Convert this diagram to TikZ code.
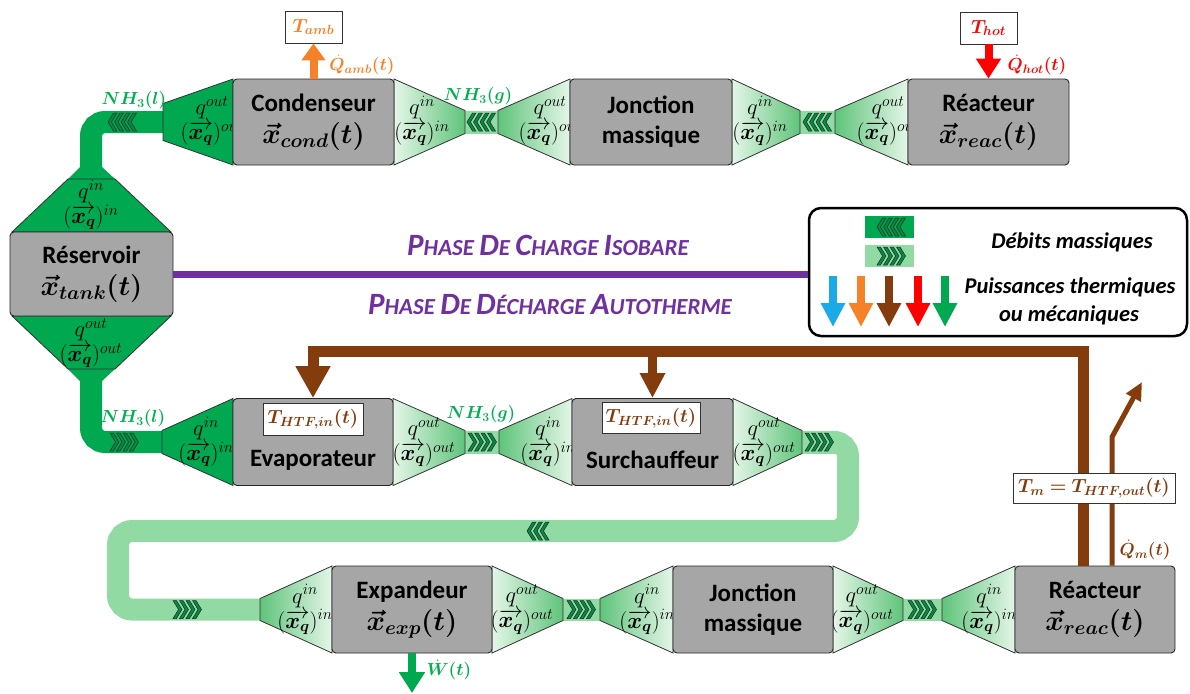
\RequirePackage{fix-cm}
\documentclass[tikz,border=0pt]{standalone}
\usepackage{amsmath}
\usepackage{bm}
\usepackage{fontspec}
\setmainfont{Carlito}
\usetikzlibrary{arrows.meta}
\pgfdeclarelayer{bg}
\pgfsetlayers{bg,main}
\definecolor{dg}{RGB}{0,168,80}
\definecolor{chevc}{RGB}{0,140,65}
\definecolor{lgd}{RGB}{95,196,122}
\definecolor{lgl}{RGB}{228,246,232}
\definecolor{pipel}{RGB}{145,218,163}
\definecolor{boxg}{RGB}{166,166,166}
\definecolor{brn}{RGB}{132,60,12}
\definecolor{purp}{RGB}{112,48,160}
\definecolor{orng}{RGB}{245,130,40}
\definecolor{redc}{RGB}{255,0,0}
\definecolor{grt}{RGB}{0,176,80}
\definecolor{skyb}{RGB}{28,170,230}
\newcommand\trap[6]{\path[#6] (#1,{#3-#4}) -- (#2,{#3-#5}) -- (#2,{#3+#5}) -- (#1,{#3+#4}) -- cycle;}
\newcommand\chevs[4]{\foreach \i in {1,...,#3}{\pic[xscale=#4] at ({#1+(\i-1)*6.5+(1-#4)*4.5},#2) {chev};}}
\newcommand\qlab[4]{\node[qlab] (#1) at (#2,#3) {$q^{#4}$\\[-1pt]$(\overrightarrow{\bm{x}_{\bm{q}}})^{#4}$};}
\newcommand\sck[2]{{\fontsize{31}{31}\selectfont #1}{\fontsize{23}{23}\selectfont #2}}
\begin{document}
\begin{tikzpicture}[x=1pt,y=-1pt,
  box/.style={draw=black!85, line width=0.9pt, fill=boxg, rounded corners=4pt, minimum width=#1, minimum height=86pt, inner sep=0pt, align=center, font=\bfseries\fontsize{25}{30}\selectfont},
  box/.default=160pt,
  dtrap/.style={fill=dg, draw=black!80, line width=0.8pt},
  ltrapL/.style={left color=lgd, right color=lgl, draw=black!80, line width=0.8pt},
  ltrapR/.style={left color=lgl, right color=lgd, draw=black!80, line width=0.8pt},
  dpipe/.style={draw=dg, line width=22pt, rounded corners=14pt},
  lpipe/.style={draw=pipel, line width=22pt, rounded corners=14pt},
  qlab/.style={font=\fontsize{22.5}{26}\selectfont, align=center, inner sep=0pt},
  nh/.style={text=grt, font=\fontsize{17.5}{18}\selectfont, inner sep=0pt},
  tbox/.style={draw=black!80, line width=0.8pt, fill=white, inner sep=0pt, font=\fontsize{19}{20}\selectfont},
  lab/.style={inner sep=0pt, font=\fontsize{17.5}{18}\selectfont},
  legt/.style={inner sep=0pt, font=\bfseries\itshape\fontsize{22.5}{24}\selectfont},
  phase/.style={inner sep=0pt, text=purp, font=\bfseries\itshape\fontsize{23}{23}\selectfont},
  chev/.pic={\filldraw[fill=chevc, draw=black!85, line width=0.5pt] (0,-9) -- (3.5,-9) -- (9,0) -- (3.5,9) -- (0,9) -- (5.5,0) -- cycle;}
]
\useasboundingbox (0,0) rectangle (1190,693);

% ---------- named pipe ends ----------
\coordinate (condout) at (163,122);
\coordinate (tankin) at (91,168);
\coordinate (tankout) at (91,380);
\coordinate (evapin) at (162,442);
\coordinate (surchout) at (825,442);
\coordinate (expin) at (262,609.5);

\begin{pgfonlayer}{bg}
% pipes
\draw[dpipe] (condout) -- (91,122) -- (tankin);
\draw[dpipe] (tankout) -- (91,442) -- (evapin);
\draw[lpipe] (surchout) -- (848,442) -- (848,531) -- (118,531) -- (118,609.5) -- (expin);
% flares at the tank
\fill[dg] (80,167) -- (102,167) -- (115,179) -- (68,179) -- cycle;
\fill[dg] (68,369) -- (115,369) -- (102,381) -- (80,381) -- cycle;
% strips
\fill[pipel] (465,110.5) rectangle (498,133.5);
\fill[pipel] (800,110.5) rectangle (835,133.5);
\fill[pipel] (465,430.5) rectangle (499,453.5);
\fill[pipel] (802,430.5) rectangle (838,453.5);
\fill[pipel] (563,598.5) rectangle (600,620.5);
\fill[pipel] (903,598.5) rectangle (942,620.5);
% trapezoids row 1
\trap{163}{233}{122}{18.5}{43}{dtrap}
\trap{465}{394}{122}{11.5}{43}{ltrapR}
\trap{498}{570}{122}{11.5}{43}{ltrapL}
\trap{800}{732}{122}{11.5}{43}{ltrapR}
\trap{835}{908}{122}{11.5}{43}{ltrapL}
% tank
\path[dtrap] (68,179) -- (115,179) -- (171,232) -- (12,232) -- cycle;
\path[dtrap] (12,316) -- (171,316) -- (115,369) -- (68,369) -- cycle;
% row 2
\trap{162}{233}{442}{11.5}{43.5}{dtrap}
\trap{465}{393}{442}{11.5}{43.5}{ltrapR}
\trap{499}{572}{442}{11.5}{43.5}{ltrapL}
\trap{802}{733}{442}{11.5}{43.5}{ltrapR}
% row 3
\trap{260}{332}{609.5}{11}{43.5}{ltrapL}
\trap{563}{492}{609.5}{11}{43.5}{ltrapR}
\trap{600}{673}{609.5}{11}{43.5}{ltrapL}
\trap{903}{833}{609.5}{11}{43.5}{ltrapR}
\trap{942}{1015}{609.5}{11}{43.5}{ltrapL}
% chevrons
\chevs{108}{122}{4}{-1}
\chevs{467}{122}{4}{-1}
\chevs{803}{122}{4}{-1}
\chevs{110}{442}{4}{1}
\chevs{468}{442}{4}{1}
\chevs{805}{442}{4}{1}
\chevs{527}{531}{3}{-1}
\chevs{173}{609.5}{4}{1}
\chevs{567}{609.5}{4}{1}
\chevs{908}{609.5}{4}{1}
% q labels
\qlab{q1}{212}{121}{out}
\qlab{q2}{422}{121}{in}
\qlab{q3}{550}{121}{out}
\qlab{q4}{760}{121}{in}
\qlab{q5}{888}{121}{out}
\qlab{q6}{91}{205}{in}
\qlab{q7}{91}{343}{out}
\qlab{q8}{206}{442}{in}
\qlab{q9}{424}{442}{out}
\qlab{q10}{548}{442}{in}
\qlab{q11}{764}{442}{out}
\qlab{q12}{305}{609.5}{in}
\qlab{q13}{522}{609.5}{out}
\qlab{q14}{647}{609.5}{in}
\qlab{q15}{862}{609.5}{out}
\qlab{q16}{989}{609.5}{in}
\end{pgfonlayer}

% ---------- boxes ----------
\node[box=161pt] (cond) at (313.5,122) {Condenseur\\[2pt]{\fontsize{28}{30}\selectfont$\bm{\vec{x}_{cond}(t)}$}};
\node[box=162pt] (jm1) at (651,122) {Jonction\\massique};
\node[box=161pt] (reac1) at (988.5,122) {Réacteur\\[2pt]{\fontsize{28}{30}\selectfont$\bm{\vec{x}_{reac}(t)}$}};
\node[box=163pt, minimum height=84pt] (tank) at (91.5,274) {Réservoir\\[2pt]{\fontsize{28}{30}\selectfont$\bm{\vec{x}_{tank}(t)}$}};
\node[box=160pt, minimum height=87pt] (evap) at (313,442) {};
\node[box=161pt, minimum height=87pt] (surch) at (652.5,442) {};
\node[box=160pt, minimum height=87pt] (exp) at (412,609.5) {Expandeur\\[2pt]{\fontsize{28}{30}\selectfont$\bm{\vec{x}_{exp}(t)}$}};
\node[box=160pt, minimum height=87pt] (jm2) at (753,609.5) {Jonction\\massique};
\node[box=160pt, minimum height=87pt] (reac2) at (1095,609.5) {Réacteur\\[2pt]{\fontsize{28}{30}\selectfont$\bm{\vec{x}_{reac}(t)}$}};
\node[inner sep=0pt, font=\bfseries\fontsize{25}{30}\selectfont] (evapt) at (313,460) {Evaporateur};
\node[inner sep=0pt, font=\bfseries\fontsize{25}{30}\selectfont] (surcht) at (652.5,460) {Surchauffeur};
\node[tbox, minimum width=100pt, minimum height=32pt, text=brn] (tin1) at (313,419) {$\bm{T_{HTF,in}(t)}$};
\node[tbox, minimum width=98pt, minimum height=31pt, text=brn] (tin2) at (651,418) {$\bm{T_{HTF,in}(t)}$};

% ---------- NH3 labels ----------
\node[nh] (nh1) at (134,100) {$\bm{NH_3(l)}$};
\node[nh] (nh2) at (478,96) {$\bm{NH_3(g)}$};
\node[nh] (nh3) at (133,418) {$\bm{NH_3(l)}$};
\node[nh] (nh4) at (481,414) {$\bm{NH_3(g)}$};

% ---------- heat flows ----------
\node[tbox, minimum width=57pt, minimum height=32pt, text=orng] (tamb) at (313.5,27) {$\bm{T_{amb}}$};
\node[tbox, minimum width=57pt, minimum height=32pt, text=redc] (thot) at (988.5,28) {$\bm{T_{hot}}$};
\draw[orng, line width=8pt, -{Triangle[width=23pt,length=17pt]}] (cond.north) -- (tamb.south);
\draw[redc, line width=8pt, -{Triangle[width=24pt,length=20pt]}] (thot.south) -- (reac1.north);
\node[lab, text=orng] (qamb) at (362,65) {$\bm{\dot{Q}_{amb}(t)}$};
\node[lab, text=redc] (qhot) at (1037,65) {$\bm{\dot{Q}_{hot}(t)}$};

\coordinate (wout) at (412,693);
\draw[dg, line width=8pt, -{Triangle[width=25pt,length=21pt]}] (exp.south) -- (wout);
\node[lab, text=grt] (wdot) at (449,670) {$\bm{\dot{W}(t)}$};

% brown loop
\draw[brn, line width=11pt, -{Triangle[width=33pt,length=32pt]}] ([xshift=-12pt]reac2.north) |- (313,351) -- (evap.north);
\draw[brn, line width=9pt, -{Triangle[width=24pt,length=25pt]}] (surch.north |- 0,352) -- (surch.north);
\coordinate (qmout) at (1142,382);
\draw[brn, line width=5pt, -{Triangle[width=16pt,length=18pt]}] ([xshift=17pt]reac2.north) -- (1112,437) -- (qmout);
\node[tbox, minimum width=162pt, minimum height=30pt, text=brn] (tm) at (1094,488) {$\bm{T_m = T_{HTF,out}(t)}$};
\node[lab, text=brn] (qm) at (1145,550) {$\bm{\dot{Q}_{m}(t)}$};

% ---------- phases ----------
\node[draw=black, line width=2.5pt, rounded corners=12pt, minimum width=378pt, minimum height=128pt] (legend) at (998,272) {};
\draw[purp, line width=7pt] (tank.east) -- (tank.east -| legend.west);
\node[phase] (ph1) at (548,245) {\sck{P}{HASE} \sck{D}{E} \sck{C}{HARGE} \sck{I}{SOBARE}};
\node[phase] (ph2) at (550,305) {\sck{P}{HASE} \sck{D}{E} \sck{D}{ÉCHARGE} \sck{A}{UTOTHERME}};

% ---------- legend content ----------
\fill[dg] (865,216) rectangle (914,238);
\fill[pipel] (865,245) rectangle (914,267);
\chevs{877}{227}{4}{-1}
\chevs{877}{256}{4}{1}
\foreach \c/\x in {skyb/833, orng/861, brn/889, redc/918, dg/945}
  \draw[\c, line width=8pt, -{Triangle[width=23pt,length=24pt]}] (\x,276) -- (\x,327);
\node[legt] (lt1) at (1072,242) {Débits massiques};
\node[legt] (lt2) at (1070,287) {Puissances thermiques};
\node[legt] (lt3) at (1069,315) {ou mécaniques};
\end{tikzpicture}
\end{document}
